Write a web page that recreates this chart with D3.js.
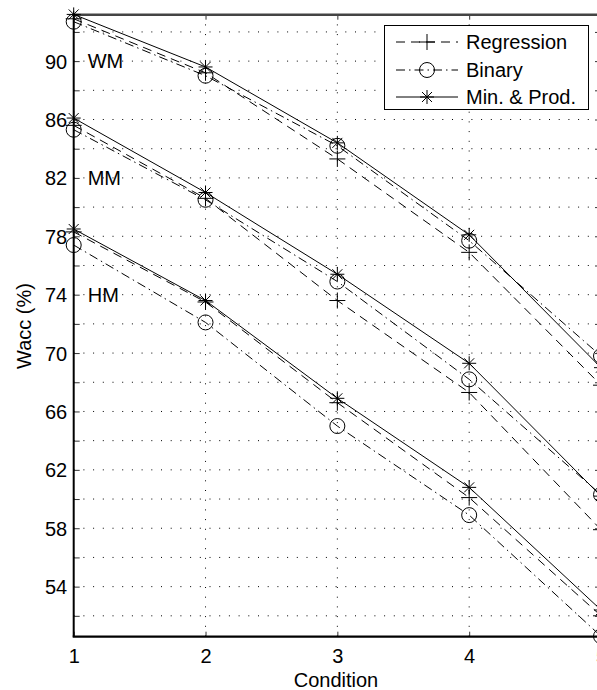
<!DOCTYPE html>
<html><head><meta charset="utf-8">
<script src="https://cdn.jsdelivr.net/npm/d3@7/dist/d3.min.js"></script>
<style>
html,body{margin:0;padding:0;background:#fff;overflow:hidden;}
text{font-family:"Liberation Sans",Arial,Helvetica,sans-serif;}
</style></head>
<body>
<svg id="c" width="597" height="690"></svg>
<script>
const conditions = [1, 2, 3, 4, 5];
const WM_reg = [92.9, 89.2, 83.3, 76.9, 67.8];
const WM_bin = [92.7, 89.0, 84.2, 77.7, 69.8];
const WM_min = [93.2, 89.6, 84.4, 78.1, 69.0];
const MM_reg = [85.6, 80.6, 73.6, 67.3, 57.9];
const MM_bin = [85.3, 80.5, 74.9, 68.2, 60.3];
const MM_min = [86.1, 81.0, 75.4, 69.3, 60.2];
const HM_reg = [78.3, 73.5, 66.6, 60.1, 52.0];
const HM_bin = [77.4, 72.1, 65.0, 58.9, 50.6];
const HM_min = [78.5, 73.6, 66.9, 60.8, 52.4];
const groupLabels = [{name:"WM", y:90}, {name:"MM", y:82}, {name:"HM", y:74}];
const yTicks = d3.range(52, 93, 2);
const methods = ["Regression", "Binary", "Min. & Prod."];

const FS = 20;
const svg = d3.select("#c");
const x = d3.scaleLinear().domain([1, 5]).range([73.7, 601]);
const y = d3.scaleLinear().domain([50.57, 93.18]).range([636.7, 14.7]);
const [x0, x1] = x.range();
const [yb, yt] = y.range();

// grid
const g = svg.append("g");
g.selectAll("line.h").data(yTicks).join("line")
  .attr("x1", x0).attr("x2", x1).attr("y1", d => y(d)).attr("y2", d => y(d))
  .attr("stroke", "#000").attr("stroke-width", 1).attr("stroke-dasharray", "1,8.7");
g.selectAll("line.v").data([2, 3, 4]).join("line")
  .attr("x1", d => x(d)).attr("x2", d => x(d)).attr("y1", yt).attr("y2", yb)
  .attr("stroke", "#000").attr("stroke-width", 1).attr("stroke-dasharray", "1,8.7");

// axes
const ax = svg.append("g");
const axLeft = ax.append("g").attr("transform", `translate(${x0},0)`)
  .call(d3.axisLeft(y).tickValues(yTicks).tickSize(-6).tickPadding(6.5)
    .tickFormat(d => (d % 4 === 2 ? d : "")));
const axRight = ax.append("g").attr("transform", `translate(${x1},0)`)
  .call(d3.axisRight(y).tickValues(yTicks).tickSize(-6).tickFormat(""));
const axBottom = ax.append("g").attr("transform", `translate(0,${yb})`)
  .call(d3.axisBottom(x).tickValues(conditions).tickSize(-5).tickPadding(12).tickFormat(d3.format("d")));
const axTop = ax.append("g").attr("transform", `translate(0,${yt})`)
  .call(d3.axisTop(x).tickValues(conditions).tickSize(-5).tickFormat(""));
ax.selectAll(".domain").remove();
ax.selectAll(".tick line").attr("stroke", "#333").attr("stroke-width", 1);
ax.selectAll(".tick text").attr("font-size", FS).attr("fill", "#000")
  .attr("font-family", '"Liberation Sans",Arial,sans-serif');
axLeft.selectAll(".tick text").attr("dy", "0.35em");
// frame
svg.append("line").attr("x1", x0).attr("x2", x1).attr("y1", yt).attr("y2", yt)
  .attr("stroke", "#444").attr("stroke-width", 2.5);
svg.append("line").attr("x1", x0).attr("x2", x0).attr("y1", yt).attr("y2", yb)
  .attr("stroke", "#000").attr("stroke-width", 2);
svg.append("line").attr("x1", x0 - 1).attr("x2", x1).attr("y1", yb).attr("y2", yb)
  .attr("stroke", "#000").attr("stroke-width", 2.2);

// series
const styles = {
  "Regression": {dash: "9,6", marker: "plus"},
  "Binary": {dash: "9,4,1.5,4", marker: "circle"},
  "Min. & Prod.": {dash: null, marker: "star"}
};
const series = [
  {m: "Regression", v: WM_reg}, {m: "Binary", v: WM_bin}, {m: "Min. & Prod.", v: WM_min},
  {m: "Regression", v: MM_reg}, {m: "Binary", v: MM_bin}, {m: "Min. & Prod.", v: MM_min},
  {m: "Regression", v: HM_reg}, {m: "Binary", v: HM_bin}, {m: "Min. & Prod.", v: HM_min}
];
const line = d3.line().x((d, i) => x(conditions[i])).y(d => y(d));
const markerPath = {
  plus: "M-8,0H8M0,-8V8",
  star: "M-7,0H7M0,-7V7M-5,-5L5,5M-5,5L5,-5"
};
function drawMarker(sel, type) {
  if (type === "circle") {
    sel.append("circle").attr("r", 7.5).attr("fill", "none").attr("stroke", "#000").attr("stroke-width", 1);
  } else {
    sel.append("path").attr("d", markerPath[type]).attr("fill", "none").attr("stroke", "#000").attr("stroke-width", 1);
  }
}
const sg = svg.append("g");
series.forEach(s => {
  const st = styles[s.m];
  sg.append("path").datum(s.v).attr("d", line).attr("fill", "none")
    .attr("stroke", "#000").attr("stroke-width", 1)
    .attr("stroke-dasharray", st.dash);
  s.v.forEach((v, i) => {
    const mg = sg.append("g").attr("transform", `translate(${x(conditions[i])},${y(v)})`);
    drawMarker(mg, st.marker);
  });
});

// group labels
svg.selectAll("text.grp").data(groupLabels).join("text")
  .attr("x", x(1) + 14).attr("y", d => y(d.y)).attr("dy", "0.35em")
  .attr("font-size", FS).attr("fill", "#000").text(d => d.name);

// axis titles
svg.append("text").attr("x", 336).attr("y", 687).attr("text-anchor", "middle")
  .attr("font-size", FS).text("Condition");
svg.append("text").attr("transform", `translate(31,326) rotate(-90)`).attr("text-anchor", "middle")
  .attr("font-size", FS).text("Wacc (%)");

// legend
const lg = svg.append("g");
lg.append("rect").attr("x", 384.5).attr("y", 25.5).attr("width", 204).attr("height", 84)
  .attr("fill", "#fff").attr("stroke", "#000").attr("stroke-width", 1);
const ly = [42, 70, 97];
methods.forEach((m, i) => {
  const st = styles[m];
  lg.append("line").attr("x1", 396).attr("x2", 458).attr("y1", ly[i]).attr("y2", ly[i])
    .attr("stroke", "#000").attr("stroke-width", 1).attr("stroke-dasharray", st.dash);
  const mg = lg.append("g").attr("transform", `translate(427,${ly[i]})`);
  drawMarker(mg, st.marker);
  lg.append("text").attr("x", 466).attr("y", ly[i]).attr("dy", "0.35em")
    .attr("font-size", FS).text(m);
});
</script>
</body></html>
